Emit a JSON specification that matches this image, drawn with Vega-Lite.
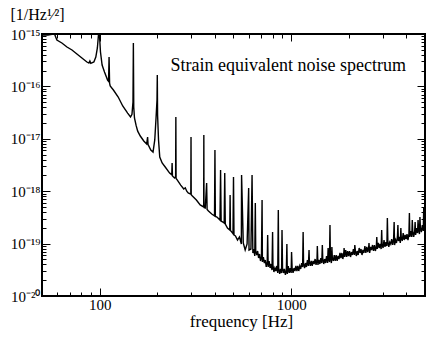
{
  "$schema": "https://vega.github.io/schema/vega-lite/v6.json",
  "width": 383,
  "height": 262,
  "autosize": {"type": "none"},
  "padding": {"left": 42, "top": 34, "right": 1, "bottom": 41},
  "background": "white",
  "config": {
    "font": "Liberation Serif",
    "view": {"stroke": "black", "strokeWidth": 2},
    "axis": {"domain": false, "grid": false, "tickColor": "black", "tickWidth": 1, "labelColor": "black", "titleColor": "black", "labelFont": "Liberation Serif", "titleFont": "Liberation Serif", "titleFontWeight": "normal", "labelOverlap": false, "labelFlush": false}
  },
  "title": {"text": "Strain equivalent noise spectrum", "anchor": "end", "frame": "group", "orient": "top", "offset": -83, "baseline": "alphabetic", "dx": -19, "fontSize": 18, "fontWeight": "normal", "font": "Liberation Serif", "color": "black"},
  "data": {"values": [
    {"f": 50, "a": 9.6e-16}, {"f": 53.7, "a": 9.6e-16}, {"f": 56.4, "a": 9.9e-16}, {"f": 58, "a": 1.02e-15}, {"f": 59.8, "a": 7.67e-16},
    {"f": 63.5, "a": 6.73e-16}, {"f": 67.5, "a": 5.65e-16}, {"f": 71.7, "a": 4.95e-16}, {"f": 76.1, "a": 4.15e-16}, {"f": 80.8, "a": 3.48e-16},
    {"f": 85.8, "a": 2.92e-16}, {"f": 87.9, "a": 2.8e-16}, {"f": 88.9, "a": 3.05e-16}, {"f": 89.9, "a": 2.75e-16}, {"f": 93.3, "a": 2.92e-16},
    {"f": 95.5, "a": 3.64e-16}, {"f": 97.3, "a": 5.41e-16}, {"f": 99.3, "a": 1.3e-15}, {"f": 101, "a": 4.53e-16}, {"f": 103, "a": 2.56e-16},
    {"f": 106, "a": 1.88e-16}, {"f": 110, "a": 1.32e-16}, {"f": 111.3, "a": 1.25e-16}, {"f": 112, "a": 3.64e-16}, {"f": 112.7, "a": 1.15e-16},
    {"f": 113.5, "a": 1.02e-16}, {"f": 118, "a": 8.53e-17}, {"f": 125, "a": 6.28e-17}, {"f": 132, "a": 4.23e-17}, {"f": 140, "a": 3.1e-17},
    {"f": 145, "a": 2.61e-17}, {"f": 147.5, "a": 2.92e-17}, {"f": 149.3, "a": 5.0e-17}, {"f": 150, "a": 6.73e-16}, {"f": 150.7, "a": 4.0e-17},
    {"f": 152, "a": 2.5e-17}, {"f": 155, "a": 1.8e-17}, {"f": 158, "a": 1.4e-17}, {"f": 163, "a": 1.13e-17}, {"f": 170, "a": 9.07e-18},
    {"f": 176, "a": 7.96e-18}, {"f": 178, "a": 1.08e-17}, {"f": 179, "a": 7.8e-18}, {"f": 185, "a": 6.11e-18}, {"f": 190, "a": 5.6e-18},
    {"f": 194, "a": 9.5e-18}, {"f": 197, "a": 2.49e-17}, {"f": 199.3, "a": 5.5e-17}, {"f": 200, "a": 1.65e-16}, {"f": 200.7, "a": 2.84e-17},
    {"f": 203, "a": 9.5e-18}, {"f": 206, "a": 4.5e-18}, {"f": 212, "a": 3.45e-18}, {"f": 220, "a": 2.9e-18}, {"f": 232, "a": 2.22e-18},
    {"f": 238, "a": 2.05e-18}, {"f": 239, "a": 3.45e-18}, {"f": 240, "a": 1.95e-18}, {"f": 246, "a": 1.79e-18}, {"f": 249.3, "a": 1.9e-18},
    {"f": 250, "a": 2.61e-17}, {"f": 250.7, "a": 1.75e-18}, {"f": 254, "a": 1.64e-18}, {"f": 265, "a": 1.31e-18}, {"f": 275, "a": 1.1e-18},
    {"f": 280, "a": 1.16e-18}, {"f": 285, "a": 1.0e-18}, {"f": 290, "a": 9.25e-19}, {"f": 299.3, "a": 8.8e-19}, {"f": 300, "a": 1.08e-17},
    {"f": 300.7, "a": 8.6e-19}, {"f": 305, "a": 8.1e-19}, {"f": 320, "a": 6.79e-19}, {"f": 335, "a": 5.46e-19}, {"f": 349.3, "a": 5.0e-19},
    {"f": 350, "a": 1.18e-17}, {"f": 350.7, "a": 4.9e-19}, {"f": 356, "a": 4.78e-19}, {"f": 362, "a": 1.43e-18}, {"f": 364, "a": 4.5e-19},
    {"f": 370, "a": 4.19e-19}, {"f": 385, "a": 3.67e-19}, {"f": 398, "a": 3.37e-19}, {"f": 400, "a": 6.11e-18}, {"f": 402, "a": 3.3e-19},
    {"f": 410, "a": 3.22e-19}, {"f": 425, "a": 2.82e-19}, {"f": 428, "a": 2.54e-18}, {"f": 431, "a": 2.7e-19}, {"f": 440, "a": 2.58e-19},
    {"f": 447, "a": 2.47e-19}, {"f": 450, "a": 2.22e-18}, {"f": 453, "a": 2.37e-19}, {"f": 465, "a": 1.98e-19}, {"f": 478, "a": 1.82e-19},
    {"f": 480, "a": 8.45e-19}, {"f": 482, "a": 1.78e-19}, {"f": 490, "a": 1.66e-19}, {"f": 497, "a": 1.55e-19}, {"f": 500, "a": 1.87e-18},
    {"f": 503, "a": 1.46e-19}, {"f": 512, "a": 1.4e-19},
    {"f": 524.8, "a": 1.17e-19}, {"f": 537.0, "a": 1.34e-19}, {"f": 549.5, "a": 9.83e-20}, {"f": 551, "a": 2.04e-18}, {"f": 562.3, "a": 1.03e-19},
    {"f": 575.4, "a": 7.55e-20}, {"f": 588.8, "a": 9.83e-20}, {"f": 600, "a": 1.15e-18}, {"f": 602.6, "a": 7.55e-20}, {"f": 616.6, "a": 7.89e-20},
    {"f": 625, "a": 2.04e-18},
    {"f": 631.0, "a": 6.62e-20}, {"f": 638.3, "a": 7.89e-20}, {"f": 645.7, "a": 5.8e-20}, {"f": 650, "a": 5.95e-19}, {"f": 653.2, "a": 7.22e-20},
    {"f": 660.7, "a": 6.06e-20}, {"f": 668.3, "a": 7.22e-20}, {"f": 676.1, "a": 5.31e-20}, {"f": 683.9, "a": 6.33e-20}, {"f": 691.8, "a": 4.66e-20},
    {"f": 699.8, "a": 5.55e-20}, {"f": 705, "a": 6.79e-19}, {"f": 707.9, "a": 4.46e-20}, {"f": 716.1, "a": 5.55e-20}, {"f": 724.4, "a": 4.26e-20},
    {"f": 732.8, "a": 4.87e-20}, {"f": 741.3, "a": 3.58e-20}, {"f": 749.9, "a": 4.46e-20}, {"f": 754, "a": 1.46e-19}, {"f": 758.6, "a": 3.58e-20},
    {"f": 767.4, "a": 4.66e-20}, {"f": 776.2, "a": 3.42e-20}, {"f": 785.2, "a": 4.08e-20}, {"f": 794.3, "a": 3.13e-20}, {"f": 800, "a": 1.66e-19},
    {"f": 803.5, "a": 3.91e-20}, {"f": 812.8, "a": 2.87e-20}, {"f": 822.2, "a": 3.42e-20}, {"f": 831.8, "a": 3.0e-20}, {"f": 841.4, "a": 3.74e-20},
    {"f": 851.1, "a": 2.75e-20}, {"f": 857, "a": 4.38e-19}, {"f": 861.0, "a": 3.42e-20}, {"f": 871.0, "a": 2.63e-20}, {"f": 881.0, "a": 3.28e-20},
    {"f": 891.3, "a": 2.75e-20}, {"f": 896, "a": 1.82e-19}, {"f": 901.6, "a": 3.42e-20}, {"f": 912.0, "a": 2.75e-20}, {"f": 922.6, "a": 3.28e-20},
    {"f": 933.3, "a": 2.52e-20}, {"f": 944.1, "a": 3.13e-20}, {"f": 950, "a": 9.83e-20}, {"f": 955.0, "a": 2.63e-20}, {"f": 966.1, "a": 3.74e-20},
    {"f": 977.2, "a": 2.75e-20}, {"f": 988.5, "a": 3.42e-20}, {"f": 1000, "a": 2.75e-20}, {"f": 1005, "a": 6.91e-20}, {"f": 1011.6, "a": 3.42e-20},
    {"f": 1023, "a": 2.75e-20}, {"f": 1035, "a": 3.42e-20}, {"f": 1047, "a": 3.0e-20}, {"f": 1059, "a": 3.74e-20}, {"f": 1072, "a": 3.0e-20},
    {"f": 1084, "a": 3.74e-20}, {"f": 1096, "a": 3.0e-20}, {"f": 1109, "a": 3.74e-20}, {"f": 1122, "a": 3.28e-20}, {"f": 1135, "a": 4.26e-20},
    {"f": 1148, "a": 3.58e-20}, {"f": 1155, "a": 1.66e-19}, {"f": 1161, "a": 4.26e-20}, {"f": 1175, "a": 3.42e-20}, {"f": 1189, "a": 4.26e-20},
    {"f": 1202, "a": 3.58e-20}, {"f": 1216, "a": 4.87e-20}, {"f": 1230, "a": 3.74e-20}, {"f": 1240, "a": 7.55e-20}, {"f": 1245, "a": 4.66e-20},
    {"f": 1259, "a": 3.74e-20}, {"f": 1274, "a": 4.66e-20}, {"f": 1288, "a": 3.74e-20}, {"f": 1303, "a": 4.66e-20}, {"f": 1318, "a": 4.08e-20},
    {"f": 1334, "a": 5.08e-20}, {"f": 1349, "a": 3.91e-20}, {"f": 1365, "a": 5.08e-20}, {"f": 1370, "a": 9.0e-20}, {"f": 1380, "a": 3.91e-20},
    {"f": 1396, "a": 4.87e-20}, {"f": 1413, "a": 4.08e-20}, {"f": 1429, "a": 5.31e-20}, {"f": 1445, "a": 4.26e-20}, {"f": 1455, "a": 9.4e-20},
    {"f": 1462, "a": 5.31e-20}, {"f": 1479, "a": 4.08e-20}, {"f": 1496, "a": 5.08e-20}, {"f": 1514, "a": 4.26e-20}, {"f": 1531, "a": 5.8e-20},
    {"f": 1549, "a": 4.26e-20}, {"f": 1560, "a": 8.25e-20}, {"f": 1567, "a": 5.31e-20}, {"f": 1585, "a": 4.46e-20}, {"f": 1595, "a": 2.26e-19},
    {"f": 1603, "a": 5.55e-20}, {"f": 1622, "a": 4.26e-20}, {"f": 1632, "a": 8.62e-20}, {"f": 1641, "a": 5.31e-20}, {"f": 1660, "a": 4.66e-20},
    {"f": 1679, "a": 6.06e-20}, {"f": 1698, "a": 4.66e-20}, {"f": 1718, "a": 6.06e-20}, {"f": 1738, "a": 4.66e-20}, {"f": 1758, "a": 5.8e-20},
    {"f": 1778, "a": 5.08e-20}, {"f": 1799, "a": 6.62e-20}, {"f": 1820, "a": 5.31e-20}, {"f": 1841, "a": 6.62e-20}, {"f": 1862, "a": 5.08e-20},
    {"f": 1884, "a": 6.62e-20}, {"f": 1890, "a": 8.25e-20}, {"f": 1905, "a": 5.55e-20}, {"f": 1928, "a": 7.55e-20}, {"f": 1950, "a": 5.55e-20},
    {"f": 1972, "a": 7.22e-20}, {"f": 1995, "a": 5.8e-20}, {"f": 2018, "a": 7.22e-20}, {"f": 2042, "a": 5.55e-20}, {"f": 2065, "a": 6.91e-20},
    {"f": 2089, "a": 6.06e-20}, {"f": 2113, "a": 7.89e-20}, {"f": 2138, "a": 6.06e-20}, {"f": 2150, "a": 9.4e-20}, {"f": 2163, "a": 7.55e-20},
    {"f": 2188, "a": 5.8e-20}, {"f": 2213, "a": 7.22e-20}, {"f": 2239, "a": 6.06e-20}, {"f": 2265, "a": 8.25e-20}, {"f": 2291, "a": 6.62e-20},
    {"f": 2317, "a": 7.89e-20}, {"f": 2344, "a": 6.06e-20}, {"f": 2371, "a": 7.55e-20}, {"f": 2399, "a": 6.62e-20}, {"f": 2427, "a": 9.0e-20},
    {"f": 2455, "a": 6.62e-20}, {"f": 2483, "a": 8.62e-20}, {"f": 2512, "a": 6.91e-20}, {"f": 2541, "a": 8.62e-20}, {"f": 2550, "a": 1.03e-19},
    {"f": 2570, "a": 6.62e-20}, {"f": 2600, "a": 8.62e-20}, {"f": 2630, "a": 7.55e-20}, {"f": 2661, "a": 9.4e-20}, {"f": 2692, "a": 7.22e-20},
    {"f": 2723, "a": 9.4e-20}, {"f": 2754, "a": 7.22e-20}, {"f": 2786, "a": 9.0e-20}, {"f": 2800, "a": 1.34e-19}, {"f": 2818, "a": 7.89e-20},
    {"f": 2851, "a": 1.03e-19}, {"f": 2884, "a": 8.25e-20}, {"f": 2917, "a": 9.83e-20}, {"f": 2951, "a": 7.89e-20}, {"f": 2970, "a": 1.82e-19},
    {"f": 2985, "a": 9.83e-20}, {"f": 3020, "a": 8.25e-20}, {"f": 3055, "a": 1.17e-19}, {"f": 3090, "a": 8.62e-20}, {"f": 3126, "a": 1.07e-19},
    {"f": 3162, "a": 9.0e-20}, {"f": 3180, "a": 3.08e-19}, {"f": 3199, "a": 1.12e-19}, {"f": 3236, "a": 8.62e-20}, {"f": 3273, "a": 1.07e-19},
    {"f": 3311, "a": 9.83e-20}, {"f": 3350, "a": 1.22e-19}, {"f": 3388, "a": 9.4e-20}, {"f": 3428, "a": 1.22e-19}, {"f": 3450, "a": 2.58e-19},
    {"f": 3467, "a": 9.4e-20}, {"f": 3508, "a": 1.17e-19}, {"f": 3548, "a": 1.03e-19}, {"f": 3589, "a": 1.34e-19}, {"f": 3610, "a": 2.26e-19},
    {"f": 3631, "a": 1.12e-19}, {"f": 3673, "a": 1.34e-19}, {"f": 3715, "a": 1.03e-19}, {"f": 3740, "a": 1.98e-19}, {"f": 3758, "a": 1.34e-19},
    {"f": 3802, "a": 1.12e-19}, {"f": 3846, "a": 1.59e-19}, {"f": 3890, "a": 1.17e-19}, {"f": 3936, "a": 1.46e-19}, {"f": 3981, "a": 1.22e-19},
    {"f": 4027, "a": 1.52e-19}, {"f": 4074, "a": 1.17e-19}, {"f": 4121, "a": 1.52e-19}, {"f": 4145, "a": 3.84e-19}, {"f": 4169, "a": 1.34e-19},
    {"f": 4217, "a": 1.74e-19}, {"f": 4266, "a": 1.34e-19}, {"f": 4290, "a": 2.82e-19}, {"f": 4315, "a": 1.74e-19}, {"f": 4365, "a": 1.34e-19},
    {"f": 4416, "a": 1.74e-19}, {"f": 4440, "a": 2.58e-19}, {"f": 4467, "a": 1.46e-19}, {"f": 4519, "a": 1.98e-19}, {"f": 4571, "a": 1.59e-19},
    {"f": 4600, "a": 2.82e-19}, {"f": 4624, "a": 1.98e-19}, {"f": 4677, "a": 1.52e-19}, {"f": 4705, "a": 3.22e-19}, {"f": 4732, "a": 1.98e-19},
    {"f": 4786, "a": 1.66e-19}, {"f": 4842, "a": 2.26e-19}, {"f": 4898, "a": 1.74e-19}, {"f": 4925, "a": 4.99e-19}, {"f": 4955, "a": 2.17e-19},
    {"f": 5012, "a": 1.82e-19}
  ]},
  "layer": [
    {
      "mark": {"type": "line", "color": "black", "strokeWidth": 1.4, "clip": true},
      "encoding": {
        "x": {"field": "f", "type": "quantitative", "scale": {"type": "log", "domain": [50, 5000], "nice": false},
          "axis": {"orient": "bottom", "values": [60, 70, 80, 90, 100, 200, 300, 400, 500, 600, 700, 800, 900, 1000, 2000, 3000, 4000],
            "labelExpr": "datum.value == 100 || datum.value == 1000 ? datum.value + '' : ''",
            "tickSize": {"condition": {"test": "datum.value == 100 || datum.value == 1000", "value": -8}, "value": -4},
            "labelFontSize": 15, "labelPadding": 9, "labelBaseline": "top",
            "title": "frequency [Hz]", "titleFontSize": 17, "titleX": 199, "titleY": 30, "titleBaseline": "alphabetic", "titleAlign": "center"}},
        "y": {"field": "a", "type": "quantitative", "scale": {"type": "log", "domain": [1e-20, 1e-15], "nice": false},
          "axis": {"orient": "left",
            "values": [1e-20, 2e-20, 3e-20, 4e-20, 5e-20, 6e-20, 7e-20, 8e-20, 9e-20, 1e-19, 2e-19, 3e-19, 4e-19, 5e-19, 6e-19, 7e-19, 8e-19, 9e-19, 1e-18, 2e-18, 3e-18, 4e-18, 5e-18, 6e-18, 7e-18, 8e-18, 9e-18, 1e-17, 2e-17, 3e-17, 4e-17, 5e-17, 6e-17, 7e-17, 8e-17, 9e-17, 1e-16, 2e-16, 3e-16, 4e-16, 5e-16, 6e-16, 7e-16, 8e-16, 9e-16, 1e-15],
            "labelExpr": "datum.value==1e-15?'10⁻¹⁵':datum.value==1e-16?'10⁻¹⁶':datum.value==1e-17?'10⁻¹⁷':datum.value==1e-18?'10⁻¹⁸':datum.value==1e-19?'10⁻¹⁹':datum.value==1e-20?'10⁻²⁰':''",
            "tickSize": {"condition": {"test": "datum.value==1e-15||datum.value==1e-16||datum.value==1e-17||datum.value==1e-18||datum.value==1e-19||datum.value==1e-20", "value": -8}, "value": -4},
            "labelFontSize": 15, "labelPadding": 10,
            "title": "[1/Hz¹⁄²]", "titleFontSize": 16, "titleAngle": 0, "titleAlign": "left", "titleBaseline": "alphabetic", "titleX": -32, "titleY": -15}}
      }
    },
    {
      "mark": {"type": "line", "opacity": 0, "clip": true},
      "encoding": {
        "x": {"field": "f", "type": "quantitative",
          "axis": {"orient": "top", "values": [60, 70, 80, 90, 100, 200, 300, 400, 500, 600, 700, 800, 900, 1000, 2000, 3000, 4000], "labels": false, "title": null,
            "tickSize": {"condition": {"test": "datum.value == 100 || datum.value == 1000", "value": -7}, "value": -4}}},
        "y": {"field": "a", "type": "quantitative",
          "axis": {"orient": "right", "labels": false, "title": null,
            "values": [1e-20, 2e-20, 3e-20, 4e-20, 5e-20, 6e-20, 7e-20, 8e-20, 9e-20, 1e-19, 2e-19, 3e-19, 4e-19, 5e-19, 6e-19, 7e-19, 8e-19, 9e-19, 1e-18, 2e-18, 3e-18, 4e-18, 5e-18, 6e-18, 7e-18, 8e-18, 9e-18, 1e-17, 2e-17, 3e-17, 4e-17, 5e-17, 6e-17, 7e-17, 8e-17, 9e-17, 1e-16, 2e-16, 3e-16, 4e-16, 5e-16, 6e-16, 7e-16, 8e-16, 9e-16, 1e-15],
            "tickSize": {"condition": {"test": "datum.value==1e-15||datum.value==1e-16||datum.value==1e-17||datum.value==1e-18||datum.value==1e-19||datum.value==1e-20", "value": -8}, "value": -4}}}
      }
    }
  ]
}
